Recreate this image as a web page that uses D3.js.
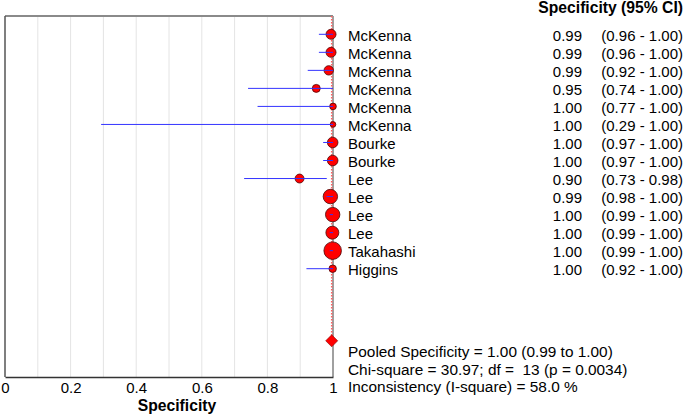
<!DOCTYPE html>
<html><head><meta charset="utf-8">
<script src="https://cdn.jsdelivr.net/npm/d3@7"></script>
<style>body{margin:0;background:#fff}svg{display:block;font-family:"Liberation Sans",Arial,sans-serif}text{white-space:pre}</style>
</head><body><svg id="c" width="685" height="415"></svg>
<script>
const studies = ["McKenna","McKenna","McKenna","McKenna","McKenna","McKenna","Bourke","Bourke","Lee","Lee","Lee","Lee","Takahashi","Higgins"];
const spec   = [0.994,0.994,0.987,0.949,1.0,1.0,0.999,0.999,0.898,0.992,0.999,0.998,0.999,0.999];
const lower  = [0.957,0.957,0.923,0.741,0.77,0.293,0.97,0.97,0.729,0.98,0.99,0.99,0.99,0.919];
const upper  = [1.0,1.0,1.0,1.0,1.0,1.0,1.0,1.0,0.981,1.0,1.0,1.0,1.0,1.0];
const weights = [25,25,22,16,11,8,28,28,20,52,52,42,77,14];
const specLabels = ["0.99","0.99","0.99","0.95","1.00","1.00","1.00","1.00","0.90","0.99","1.00","1.00","1.00","1.00"];
const ciLabels = ["(0.96 - 1.00)","(0.96 - 1.00)","(0.92 - 1.00)","(0.74 - 1.00)","(0.77 - 1.00)","(0.29 - 1.00)","(0.97 - 1.00)","(0.97 - 1.00)","(0.73 - 0.98)","(0.98 - 1.00)","(0.99 - 1.00)","(0.99 - 1.00)","(0.99 - 1.00)","(0.92 - 1.00)"];
const pooled = 0.996;
const summaryLines = ["Pooled Specificity = 1.00 (0.99 to 1.00)","Chi-square = 30.97; df =  13 (p = 0.0034)","Inconsistency (I-square) = 58.0 %"];
const xTicks = [0,0.2,0.4,0.6,0.8,1];
const gridVals = [0.1,0.2,0.3,0.4,0.5,0.6,0.7,0.8,0.9];

const svg = d3.select("#c");
const L=5, R=333, T=16, B=377;
const x = d3.scaleLinear().domain([0,1]).range([L,R]);
const y = d3.scaleLinear().domain([0,1]).range([34.3,52.33]);
const r = d3.scaleSqrt().domain([0,100]).range([0,10]);

// grid
svg.append("g").selectAll("line").data(gridVals).join("line")
  .attr("x1",d=>x(d)).attr("x2",d=>x(d)).attr("y1",T).attr("y2",B)
  .attr("stroke","#e4e4e4").attr("stroke-width",1);

// box
svg.append("line").attr("x1",L).attr("x2",R).attr("y1",T).attr("y2",T).attr("stroke","#8a8a8a").attr("stroke-width",2);
svg.append("line").attr("x1",R).attr("x2",R).attr("y1",T).attr("y2",B).attr("stroke","#a0a0a0").attr("stroke-width",2);
svg.append("line").attr("x1",L).attr("x2",L).attr("y1",T).attr("y2",B).attr("stroke","#555").attr("stroke-width",1.5);

// pooled dotted line
svg.append("line").attr("x1",x(pooled)).attr("x2",x(pooled)).attr("y1",T).attr("y2",y(17))
  .attr("stroke","#ff6060").attr("stroke-width",1.5).attr("stroke-dasharray","1.5,1.5");

// x axis
const ax = svg.append("g").attr("transform",`translate(0,${B})`)
  .call(d3.axisBottom(x).tickValues(xTicks).tickFormat(d=>d3.format("")(d)).tickSize(0).tickPadding(5));
ax.select(".domain").attr("stroke","#333").attr("stroke-width",1.5);
ax.selectAll("text").attr("font-size",15).attr("fill","#000").attr("font-family","Liberation Sans, Arial");
svg.append("text").attr("x",177).attr("y",411).attr("text-anchor","middle").attr("font-weight","bold").attr("font-size",15.7).text("Specificity");

const idx = d3.range(studies.length);
// circles
svg.append("g").selectAll("circle").data(idx).join("circle")
  .attr("cx",i=>x(spec[i])).attr("cy",i=>y(i)).attr("r",i=>r(weights[i]))
  .attr("fill","#ff0000").attr("stroke","#4a0808").attr("stroke-width",0.8);
// CI lines
svg.append("g").selectAll("line").data(idx).join("line")
  .attr("x1",i=>x(lower[i])).attr("x2",i=>x(upper[i])).attr("y1",i=>y(i)).attr("y2",i=>y(i))
  .attr("stroke","#3333ff").attr("stroke-width",1);

// diamond
const dx = x(pooled), dy = y(17), h = 6;
svg.append("path").attr("d",`M${dx},${dy-h}L${dx+h},${dy}L${dx},${dy+h}L${dx-h},${dy}Z`)
  .attr("fill","#ff0000").attr("stroke","#8a0000").attr("stroke-width",0.6);

// text columns
const tg = svg.append("g").attr("font-size",15).attr("fill","#000");
tg.selectAll(".nm").data(idx).join("text").attr("class","nm")
  .attr("x",348).attr("y",i=>y(i)+6.3).text(i=>studies[i]);
tg.selectAll(".sv").data(idx).join("text").attr("class","sv")
  .attr("x",582).attr("y",i=>y(i)+6.3).attr("text-anchor","end").text(i=>specLabels[i]);
tg.selectAll(".ci").data(idx).join("text").attr("class","ci")
  .attr("x",683).attr("y",i=>y(i)+6.3).attr("text-anchor","end").text(i=>ciLabels[i]);
svg.append("text").attr("x",683).attr("y",13).attr("text-anchor","end").attr("font-weight","bold").attr("font-size",15.7).text("Specificity (95% CI)");
tg.selectAll(".sm").data(summaryLines).join("text").attr("class","sm")
  .attr("x",348).attr("y",(d,i)=>357+i*17.5).attr("font-size",15.4).text(d=>d);
</script></body></html>
